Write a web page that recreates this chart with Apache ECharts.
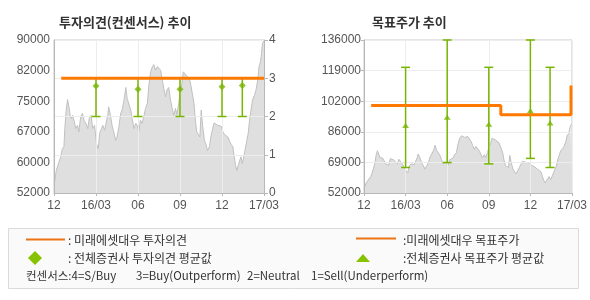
<!DOCTYPE html>
<html><head><meta charset="utf-8">
<script src="https://cdn.jsdelivr.net/npm/echarts@6/dist/echarts.min.js"></script>
<style>html,body{margin:0;padding:0;background:#fff}#c{width:590px;height:300px}</style>
</head><body><div id="c"></div>
<script>
// ---- data ----
const xTickLabels = ['12', '16/03', '06', '09', '12', '17/03'];
const leftPriceTicks = ['52000', '60000', '67000', '75000', '82000', '90000'];
const opinionTicks = ['0', '1', '2', '3', '4'];
const rightPriceTicks = ['52000', '69000', '86000', '102000', '119000', '136000'];

const priceDates = ['2015-12-01','2015-12-03','2015-12-06','2015-12-10','2015-12-16','2015-12-19','2015-12-23','2015-12-25','2015-12-28','2015-12-31',
'2016-01-03','2016-01-06','2016-01-08','2016-01-11','2016-01-15','2016-01-18','2016-01-22','2016-01-25','2016-01-29',
'2016-02-02','2016-02-05','2016-02-09','2016-02-13','2016-02-16','2016-02-20','2016-02-23','2016-02-27',
'2016-03-02','2016-03-06','2016-03-09','2016-03-13','2016-03-16','2016-03-20','2016-03-24','2016-03-27','2016-03-29',
'2016-04-02','2016-04-06','2016-04-09','2016-04-13','2016-04-16','2016-04-20','2016-04-24','2016-04-27',
'2016-05-01','2016-05-05','2016-05-08','2016-05-12','2016-05-16','2016-05-19','2016-05-23','2016-05-27','2016-05-30',
'2016-06-03','2016-06-06','2016-06-10','2016-06-14','2016-06-17','2016-06-21','2016-06-24','2016-06-28',
'2016-07-02','2016-07-05','2016-07-09','2016-07-13','2016-07-16','2016-07-20','2016-07-24','2016-07-27','2016-07-31',
'2016-08-03','2016-08-07','2016-08-11','2016-08-14','2016-08-18','2016-08-22','2016-08-25','2016-08-29',
'2016-09-01','2016-09-05','2016-09-08','2016-09-12','2016-09-16','2016-09-20','2016-09-23','2016-09-25','2016-09-28',
'2016-10-01','2016-10-04','2016-10-07','2016-10-11','2016-10-14','2016-10-17','2016-10-20','2016-10-24','2016-10-27','2016-10-31',
'2016-11-04','2016-11-07','2016-11-11','2016-11-14','2016-11-18','2016-11-22','2016-11-25','2016-11-29',
'2016-12-03','2016-12-06','2016-12-10','2016-12-14','2016-12-17','2016-12-21','2016-12-25','2016-12-28','2016-12-31',
'2017-01-03','2017-01-06','2017-01-09','2017-01-12','2017-01-15','2017-01-19','2017-01-22','2017-01-25','2017-01-28','2017-01-31',
'2017-02-03','2017-02-06','2017-02-10','2017-02-13','2017-02-17','2017-02-19','2017-02-22','2017-02-24','2017-02-26','2017-03-01'];
const prices = [54500,55200,57600,57500,61000,62800,63500,68000,72600,75200,
73400,71300,70500,71300,69700,68000,68800,67200,70900,
71800,70100,69300,68000,70500,71300,68000,68800,
64300,63000,66800,68000,68800,67600,68000,71300,73400,
71300,68400,67200,65100,65900,68400,71800,72600,
75100,78200,75500,75100,72600,70500,68000,69300,68800,
67200,70100,69300,71300,73000,74200,78400,82100,
83400,83900,82500,83400,83000,82500,80000,78000,75900,
77600,78200,75100,73400,71300,73000,71500,74200,
76700,79200,82100,82500,81000,80500,79600,79400,76300,
74200,70100,67200,66800,65900,72600,68800,65100,64300,62500,
63500,65900,68000,69400,69100,68800,68400,68600,
67200,66600,66400,65900,65100,64100,63500,61000,58900,
57600,58900,59300,61000,59300,61400,61600,65100,66800,70100,
72600,75100,76300,77600,80500,83400,84600,86700,89200,89800];

// Mirae Asset Daewoo opinion
const opinionDates = ['2015-12-17', '2017-03-01'];
const opinionValues = [3, 3];
// Consensus opinion (all brokers)
const consDates = ['2016-03-01', '2016-06-01', '2016-09-01', '2016-12-01', '2017-01-15'];
const consLow = [2, 2, 2, 2, 2];
const consHigh = [3, 3, 3, 3, 3];
const consMean = [2.8, 2.71, 2.71, 2.78, 2.81];

// Mirae Asset Daewoo target price
const targetDates = ['2015-12-17', '2016-09-27', '2017-02-27'];
const targetValues = [100000, 95000, 111000];
// Consensus target price
const tpDates = ['2016-03-01', '2016-06-01', '2016-09-01', '2016-12-01', '2017-01-14'];
const tpLow = [66000, 68700, 68000, 71000, 66000];
const tpHigh = [121000, 136000, 121000, 136000, 121000];
const tpMean = [89000, 93600, 89800, 97100, 90500];

// ---- helpers ----
function toM(s) {
  const [y, m, d] = s.split('-').map(Number);
  const dim = new Date(y, m, 0).getDate();
  return (y - 2015) * 12 + (m - 12) + (d - 1) / dim;
}
const ORANGE = '#ff7800', GREEN = '#79b500', AXIS = '#b8b8b8', GRID = '#ededed';
const FONT = 'Liberation Sans';
const KFONT = 'Noto Sans CJK KR';

const priceData = priceDates.map((d, i) => [toM(d), prices[i]]);

function errBar(capW) {
  return function (params, api) {
    const x = api.value(0);
    const lo = api.coord([x, api.value(1)]);
    const hi = api.coord([x, api.value(2)]);
    const st = { stroke: GREEN, lineWidth: 1.5 };
    return { type: 'group', children: [
      { type: 'line', shape: { x1: lo[0], y1: lo[1], x2: hi[0], y2: hi[1] }, style: st },
      { type: 'line', shape: { x1: lo[0] - capW, y1: lo[1], x2: lo[0] + capW, y2: lo[1] }, style: st },
      { type: 'line', shape: { x1: hi[0] - capW, y1: hi[1], x2: hi[0] + capW, y2: hi[1] }, style: st }
    ]};
  };
}

function xAxis(gi) {
  return {
    type: 'value', gridIndex: gi, min: 0, max: 15, interval: 3, z: 3,
    axisLine: { lineStyle: { color: AXIS } },
    axisTick: { show: true, length: 3, lineStyle: { color: AXIS } },
    splitLine: { show: true, lineStyle: { color: GRID } },
    axisLabel: { color: '#555', fontFamily: FONT, fontSize: 12, margin: 7,
      formatter: v => xTickLabels[Math.round(v / 3)] }
  };
}

const chart = echarts.init(document.getElementById('c'), null, { renderer: 'canvas' });
chart.setOption({
  animation: false,
  backgroundColor: '#fff',
  title: [
    { text: '투자의견(컨센서스) 추이', left: 54, top: 11, textStyle: { fontSize: 13, fontWeight: 'bold', color: '#333', fontFamily: KFONT } },
    { text: '목표주가 추이', left: 367, top: 11, textStyle: { fontSize: 13, fontWeight: 'bold', color: '#333', fontFamily: KFONT } }
  ],
  grid: [
    { left: 54, top: 40, width: 210, height: 153, show: true, borderColor: '#c8c8c8', borderWidth: 1 },
    { left: 364, top: 40, width: 209, height: 153, show: true, borderColor: '#c8c8c8', borderWidth: 1 }
  ],
  xAxis: [xAxis(0), xAxis(1)],
  yAxis: [
    { type: 'value', gridIndex: 0, min: 52000, max: 90000, interval: 7600, z: 3,
      axisLine: { show: true, lineStyle: { color: AXIS } }, axisTick: { show: false },
      splitLine: { show: false },
      axisLabel: { color: '#555', fontFamily: FONT, fontSize: 12, margin: 4,
        formatter: v => leftPriceTicks[Math.round((v - 52000) / 7600)] } },
    { type: 'value', gridIndex: 0, position: 'right', min: 0, max: 4, interval: 1, z: 3,
      axisLine: { show: true, lineStyle: { color: AXIS } },
      axisTick: { show: true, length: 4, lineStyle: { color: AXIS } },
      splitLine: { show: true, lineStyle: { color: GRID } },
      axisLabel: { color: '#555', fontFamily: FONT, fontSize: 12, margin: 5,
        formatter: v => opinionTicks[Math.round(v)] } },
    { type: 'value', gridIndex: 1, min: 52000, max: 136000, interval: 16800, z: 3,
      axisLine: { show: true, lineStyle: { color: AXIS } },
      axisTick: { show: true, length: 3, lineStyle: { color: AXIS } },
      splitLine: { show: true, lineStyle: { color: GRID } },
      axisLabel: { color: '#555', fontFamily: FONT, fontSize: 12, margin: 3,
        formatter: v => rightPriceTicks[Math.round((v - 52000) / 16800)] } }
  ],
  series: [
    { type: 'line', xAxisIndex: 0, yAxisIndex: 0, data: priceData, symbol: 'none', z: 1,
      lineStyle: { color: '#c0c0c0', width: 1 }, areaStyle: { color: '#dfdfdf', opacity: 1 } },
    { type: 'custom', xAxisIndex: 0, yAxisIndex: 1, z: 5, renderItem: errBar(4.5),
      data: consDates.map((d, i) => [toM(d), consLow[i], consHigh[i]]) },
    { type: 'line', xAxisIndex: 0, yAxisIndex: 1, z: 6, symbol: 'none',
      lineStyle: { color: ORANGE, width: 3 },
      data: opinionDates.map((d, i) => [toM(d), opinionValues[i]]) },
    { type: 'scatter', xAxisIndex: 0, yAxisIndex: 1, z: 7, symbol: 'diamond', symbolSize: 7,
      itemStyle: { color: GREEN },
      data: consDates.map((d, i) => [toM(d), consMean[i]]) },

    { type: 'line', xAxisIndex: 1, yAxisIndex: 2, data: priceData, symbol: 'none', z: 1,
      lineStyle: { color: '#c0c0c0', width: 1 }, areaStyle: { color: '#dfdfdf', opacity: 1 } },
    { type: 'custom', xAxisIndex: 1, yAxisIndex: 2, z: 5, renderItem: errBar(4.5),
      data: tpDates.map((d, i) => [toM(d), tpLow[i], tpHigh[i]]) },
    { type: 'line', xAxisIndex: 1, yAxisIndex: 2, z: 6, symbol: 'none', step: 'end',
      lineStyle: { color: ORANGE, width: 3 },
      data: targetDates.map((d, i) => [toM(d), targetValues[i]]) },
    { type: 'scatter', xAxisIndex: 1, yAxisIndex: 2, z: 7, symbol: 'triangle', symbolSize: [7, 5],
      itemStyle: { color: GREEN },
      data: tpDates.map((d, i) => [toM(d), tpMean[i]]) }
  ],
  graphic: [
    { type: 'rect', shape: { x: 8.5, y: 228.5, width: 570, height: 60 }, style: { fill: '#fafafa', stroke: '#dadada', lineWidth: 1 }, z: 10 },
    { type: 'line', shape: { x1: 26, y1: 239.5, x2: 65, y2: 239.5 }, style: { stroke: '#ec7212', lineWidth: 2 }, z: 11 },
    { type: 'text', x: 68, y: 240, style: { text: ': 미래에셋대우 투자의견', fill: '#333', font: '12px "Noto Sans CJK KR"', textVerticalAlign: 'middle' }, z: 11 },
    { type: 'polygon', shape: { points: [[35, 251], [42, 258], [35, 265], [28, 258]] }, style: { fill: '#86c200' }, z: 11 },
    { type: 'text', x: 68, y: 258, style: { text: ': 전체증권사 투자의견 평균값', fill: '#333', font: '12px "Noto Sans CJK KR"', textVerticalAlign: 'middle' }, z: 11 },
    { type: 'text', x: 26, y: 276, style: { text: '컨센서스:4=S/Buy', fill: '#333', font: '11.5px "Noto Sans CJK KR"', textVerticalAlign: 'middle' }, z: 11 },
    { type: 'text', x: 136, y: 276, style: { text: '3=Buy(Outperform)', fill: '#333', font: '11.5px "Noto Sans CJK KR"', textVerticalAlign: 'middle' }, z: 11 },
    { type: 'text', x: 247, y: 276, style: { text: '2=Neutral', fill: '#333', font: '11.5px "Noto Sans CJK KR"', textVerticalAlign: 'middle' }, z: 11 },
    { type: 'text', x: 311, y: 276, style: { text: '1=Sell(Underperform)', fill: '#333', font: '11.5px "Noto Sans CJK KR"', textVerticalAlign: 'middle' }, z: 11 },
    { type: 'line', shape: { x1: 356, y1: 238.5, x2: 396, y2: 238.5 }, style: { stroke: '#ec7212', lineWidth: 2 }, z: 11 },
    { type: 'text', x: 403, y: 240, style: { text: ':미래에셋대우 목표주가', fill: '#333', font: '12px "Noto Sans CJK KR"', textVerticalAlign: 'middle' }, z: 11 },
    { type: 'polygon', shape: { points: [[363, 254], [370, 262], [356, 262]] }, style: { fill: '#86c200' }, z: 11 },
    { type: 'text', x: 403, y: 258, style: { text: ':전체증권사 목표주가 평균값', fill: '#333', font: '12px "Noto Sans CJK KR"', textVerticalAlign: 'middle' }, z: 11 }
  ]
});
</script>
</body></html>
